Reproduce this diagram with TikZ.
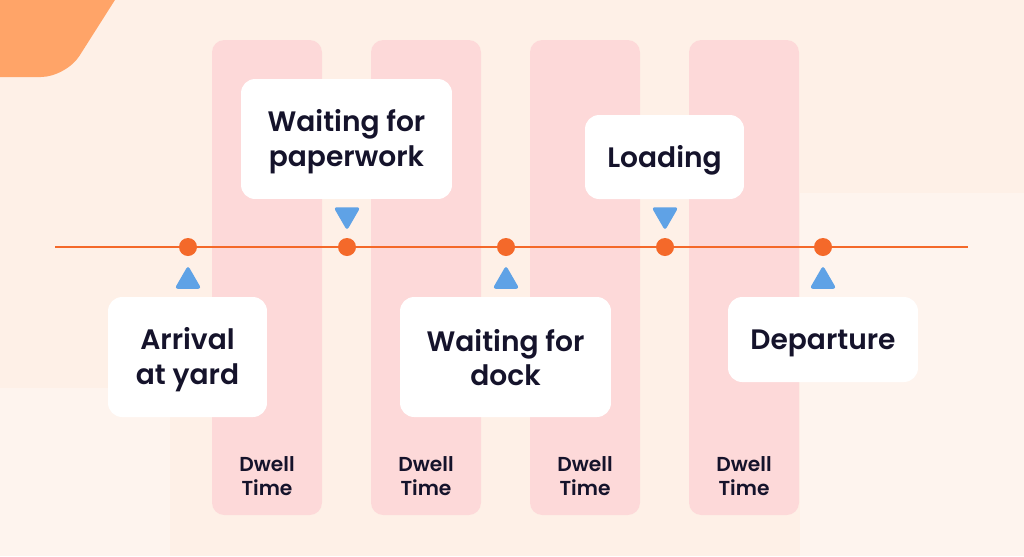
\documentclass[tikz,border=0pt]{standalone}
\usepackage{fontspec}
\setmainfont{Poppins}[BoldFont={* SemiBold}]
\usetikzlibrary{shapes.geometric}
\usetikzlibrary{positioning}
\definecolor{bgpeach}{HTML}{FEF0E7}
\definecolor{bglight}{HTML}{FEF4EE}
\definecolor{cornerorange}{HTML}{FFA468}
\definecolor{dwellpink}{HTML}{FDD9D9}
\definecolor{lineorange}{HTML}{F4692A}
\definecolor{markblue}{HTML}{5FA2E6}
\definecolor{inkdark}{HTML}{15132B}
\tikzset{%
  dwellcol/.style={fill=dwellpink,draw=none,rounded corners=7pt},
  dwelltext/.style={font=\bfseries\fontsize{11.5}{14}\selectfont,text=inkdark,align=center},
  stepbox/.style={rectangle,rounded corners=8pt,fill=white,draw=none,inner sep=0pt},
  steptext/.style={font=\bfseries\fontsize{16}{19.8}\selectfont,text=inkdark,align=center,inner sep=0pt},
  timeline/.style={draw=lineorange,line width=1.6pt},
  stopdot/.style={circle,fill=lineorange,minimum size=0.36cm,inner sep=0pt},
  pointer/.style={regular polygon,regular polygon sides=3,fill=markblue,
    minimum size=0.62cm,inner sep=0pt,rounded corners=1.8pt},
  pointup/.style={pointer},
  pointdown/.style={pointer,shape border rotate=180}
}

\begin{document}
\begin{tikzpicture}[x=0.02cm,y=-0.02cm]
    \useasboundingbox (0,0) rectangle (1024,556);
    \fill[bgpeach] (0,0) rectangle (1024,556);
    % faint background panels
    \fill[bglight] (0,388) rectangle (170,556);
    \fill[bglight] (800,193) rectangle (1024,556);
    % corner shape
    \begin{scope}
        \clip (0,0) rectangle (1024,556);
        \fill[cornerorange,rounded corners=0.5cm] (-30,-30) -- (134,-30) -- (66,77) -- (-30,77) -- cycle;
    \end{scope}
    % dwell time columns
    \foreach \xl/\name in {212/dwa,371/dwb,530/dwc,689/dwd}{
        \fill[dwellcol] (\xl,40) rectangle (\xl+110,515);
        \node[dwelltext] (\name) at (\xl+55,476) {Dwell\\Time};
    }
    % timeline
    \coordinate (tlstart) at (55,247);
    \coordinate (tlend) at (968,247);
    \draw[timeline] (tlstart) -- (tlend);
    \node[stopdot] (arrivaldot) at (188,247) {};
    \node[stopdot] (paperdot) at (347,247) {};
    \node[stopdot] (dockdot) at (506,247) {};
    \node[stopdot] (loaddot) at (665,247) {};
    \node[stopdot] (departdot) at (823,247) {};
    % pointers
    \node[pointup] (arrivalmark) at (188,281) {};
    \node[pointdown] (papermark) at (347,215) {};
    \node[pointup] (dockmark) at (506,281) {};
    \node[pointdown] (loadmark) at (665,215) {};
    \node[pointup] (departmark) at (823,281) {};
    % steps
    \node[stepbox,minimum width=3.18cm,minimum height=2.4cm] (arrival) at (187.5,357) {};
    \node[stepbox,minimum width=4.22cm,minimum height=2.4cm] (paperwork) at (346.5,139) {};
    \node[stepbox,minimum width=4.22cm,minimum height=2.4cm] (dock) at (505.5,357) {};
    \node[stepbox,minimum width=3.18cm,minimum height=1.68cm] (loading) at (664.5,157) {};
    \node[stepbox,minimum width=3.8cm,minimum height=1.7cm] (departure) at (823,339.5) {};
    \node[steptext] (arrivaltext) at ([yshift=-0.06cm]arrival.center) {Arrival\\at yard};
    \node[steptext] (paperworktext) at ([yshift=-0.06cm]paperwork.center) {Waiting for\\paperwork};
    \node[steptext] (docktext) at ([yshift=-0.01cm]dock.center) {Waiting for\\dock};
    \node[steptext] (loadingtext) at ([yshift=-0.06cm]loading.center) {Loading};
    \node[steptext] (departuretext) at ([yshift=-0.08cm]departure.center) {Departure};
\end{tikzpicture}
\end{document}
